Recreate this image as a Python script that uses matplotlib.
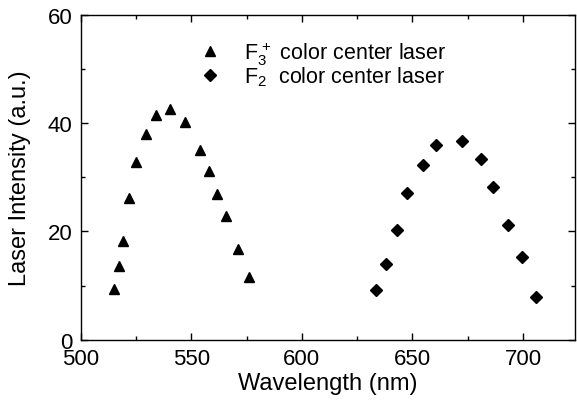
import numpy as np
import matplotlib.pyplot as plt
from matplotlib.ticker import MultipleLocator

plt.rcParams['font.family'] = ['Liberation Sans', 'DejaVu Sans']
plt.rcParams['mathtext.fontset'] = 'custom'
plt.rcParams['mathtext.rm'] = 'Liberation Sans'
plt.rcParams['mathtext.it'] = 'Liberation Sans'

# F3+ color center laser
wl_f3 = [515.1, 517.5, 519.3, 522.0, 524.9, 529.4, 533.9, 540.4, 547.3,
         553.7, 558.1, 561.5, 565.9, 571.0, 576.0]
int_f3 = [9.4, 13.7, 18.2, 26.1, 32.8, 38.1, 41.6, 42.6, 40.2,
          35.1, 31.2, 26.9, 22.9, 16.8, 11.6]

# F2 color center laser
wl_f2 = [633.6, 638.0, 643.1, 647.5, 654.8, 660.8, 672.2, 680.8, 686.2,
         693.3, 699.5, 705.7]
int_f2 = [9.2, 14.0, 20.3, 27.1, 32.3, 36.0, 36.8, 33.4, 28.3,
          21.2, 15.3, 7.8]

fig = plt.figure(figsize=(5.77, 4.02), dpi=100)
ax = fig.add_axes([0.140, 0.1525, 0.8565, 0.8075])

ax.plot(wl_f3, int_f3, linestyle='none', marker='^', color='black',
        markersize=7, label=r'F$_3^{\,+}$ color center laser')
ax.plot(wl_f2, int_f2, linestyle='none', marker='D', color='black',
        markersize=6, label=r'F$_2$  color center laser')

ax.set_xlim(500, 723.5)
ax.set_ylim(0, 60)
ax.xaxis.set_major_locator(MultipleLocator(50))
ax.xaxis.set_minor_locator(MultipleLocator(25))
ax.yaxis.set_major_locator(MultipleLocator(20))
ax.yaxis.set_minor_locator(MultipleLocator(10))
ax.tick_params(which='both', direction='in', top=True, right=True,
               labelsize=16, width=1)
ax.tick_params(which='major', length=5)
ax.tick_params(which='minor', length=3)
ax.tick_params(axis='x', pad=6)
ax.tick_params(axis='y', pad=6)
for s in ax.spines.values():
    s.set_linewidth(1)

ax.set_xlabel('Wavelength (nm)', fontsize=17, labelpad=2)
ax.set_ylabel('Laser Intensity (a.u.)', fontsize=17, labelpad=12)

ax.legend(loc='upper left', bbox_to_anchor=(0.19, 0.985), frameon=False,
          fontsize=15.5, handletextpad=0.8, labelspacing=-0.1,
          handlelength=1.5)

fig.savefig('out.png', dpi=100)
